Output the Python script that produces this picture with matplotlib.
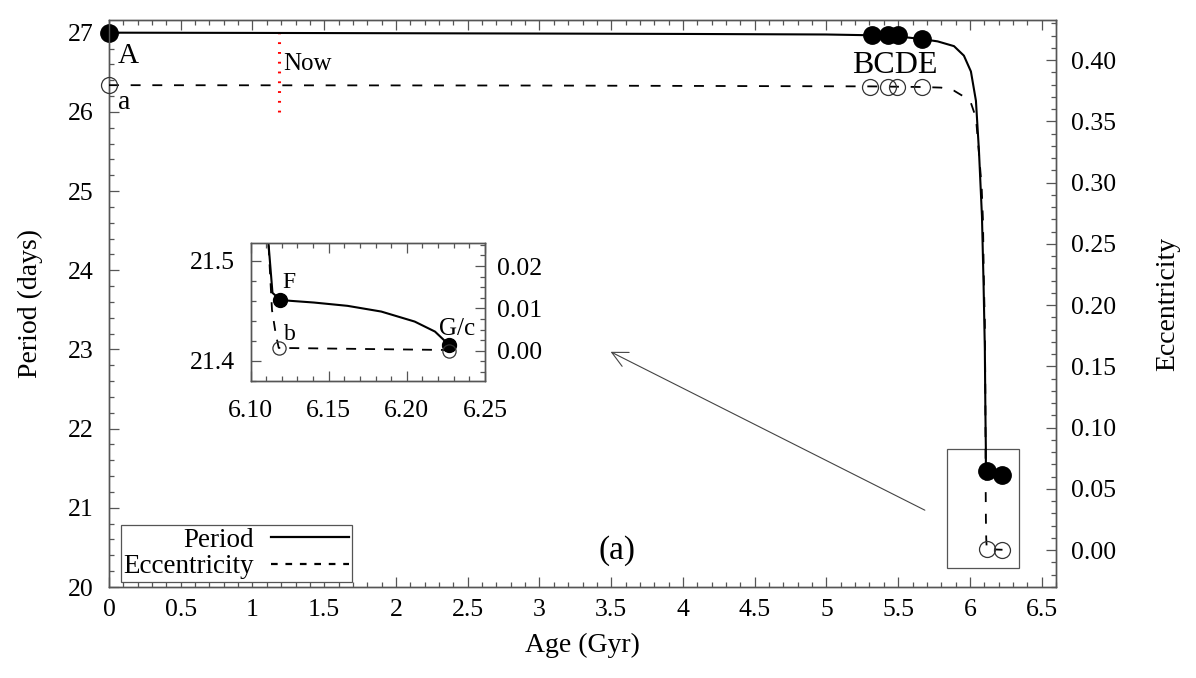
import matplotlib
matplotlib.use("Agg")
import matplotlib.pyplot as plt
from matplotlib.ticker import MultipleLocator, FuncFormatter
from matplotlib.lines import Line2D
from matplotlib.patches import Rectangle

plt.rcParams['font.family'] = ['Liberation Serif', 'DejaVu Serif']

# ---------------- data ----------------
age_period = [0.0, 1.0, 2.0, 3.0, 4.0, 5.0, 5.315, 5.5, 5.663, 5.775, 5.889, 5.958,
              6.007, 6.042, 6.063, 6.084, 6.095, 6.104, 6.108, 6.111, 6.1114, 6.114,
              6.119, 6.1255, 6.1405, 6.162, 6.1836, 6.205, 6.218, 6.227]
period = [27.0, 26.997, 26.993, 26.989, 26.984, 26.977, 26.967, 26.952, 26.92, 26.89,
          26.83, 26.71, 26.51, 26.14, 25.51, 24.68, 23.84, 23.01, 22.2, 21.76,
          21.518, 21.468, 21.461, 21.460, 21.4583, 21.455, 21.4493, 21.4393,
          21.4293, 21.416]

age_ecc = [0.0, 3.0, 5.31, 5.663, 5.8, 5.889, 5.96, 6.007, 6.042, 6.063, 6.082, 6.091,
           6.098, 6.104, 6.108, 6.110, 6.1114, 6.1137, 6.116, 6.118, 6.227]
ecc = [0.3795, 0.3792, 0.3785, 0.378, 0.3775, 0.375, 0.370, 0.365, 0.353, 0.324,
       0.296, 0.269, 0.214, 0.187, 0.12, 0.05, 0.0255, 0.0096, 0.0042, 0.0007, 0.0002]

# marked states
mark_labels_P = ['A', 'B', 'C', 'D', 'E', 'F', 'G']
mark_age_P = [0.0, 5.315, 5.43, 5.498, 5.663, 6.119, 6.227]
mark_P = [27.0, 26.967, 26.967, 26.965, 26.92, 21.461, 21.416]
mark_labels_e = ['a', 'B', 'C', 'D', 'E', 'b', 'c']
mark_age_e = [0.0, 5.303, 5.428, 5.491, 5.663, 6.118, 6.227]
mark_e = [0.3795, 0.378, 0.378, 0.378, 0.378, 0.0007, 0.0]

legend_labels = ['Period', 'Eccentricity']
now_age = 1.185

GRAY = '#555555'
FS = 18.5

fig = plt.figure(figsize=(11.96, 6.78), dpi=100)
ax = fig.add_axes([109/1196, 1-587/678, (1056-109)/1196, (587-20)/678])
ax2 = ax.twinx()

def style_axes(a, b, xfmt, yfmt, yfmt2, xpad, ypad, ypad2, fs):
    for s in list(a.spines.values()) + list(b.spines.values()):
        s.set_color(GRAY)
        s.set_linewidth(1.0)
    a.tick_params(which='both', direction='in', top=True, right=False, colors=GRAY,
                  labelcolor='black', labelsize=fs)
    a.tick_params(which='major', length=7.2, width=0.9)
    a.tick_params(which='minor', length=3.6, width=0.9)
    a.tick_params(axis='x', pad=xpad)
    a.tick_params(axis='y', pad=ypad)
    b.tick_params(which='both', direction='in', right=True, left=False, colors=GRAY,
                  labelcolor='black', labelsize=fs, pad=ypad2)
    b.tick_params(which='major', length=7.2, width=0.9)
    b.tick_params(which='minor', length=3.6, width=0.9)
    a.xaxis.set_major_formatter(FuncFormatter(xfmt))
    a.yaxis.set_major_formatter(FuncFormatter(yfmt))
    b.yaxis.set_major_formatter(FuncFormatter(yfmt2))

# ---------------- main panel ----------------
ax.plot(age_period, period, color='black', lw=1.5, zorder=3)
ax2.plot(age_ecc, ecc, color='black', lw=1.3, linestyle=(0, (5.5, 6.5)), zorder=3)
ax.plot(mark_age_P, mark_P, linestyle='none', marker='o', ms=12.5, color='black',
        zorder=4, clip_on=False)
ax2.plot(mark_age_e, mark_e, linestyle='none', marker='o', ms=11.5, mfc='none',
         mec='#333333', mew=0.9, zorder=4, clip_on=False)

ax.set_xlim(0, 6.6)
ax.set_ylim(20, 27.16)
ax2.set_ylim(-0.0302, 0.4327)
ax.xaxis.set_major_locator(MultipleLocator(0.5))
ax.xaxis.set_minor_locator(MultipleLocator(0.1))
ax.yaxis.set_major_locator(MultipleLocator(1))
ax.yaxis.set_minor_locator(MultipleLocator(0.2))
ax2.yaxis.set_major_locator(MultipleLocator(0.05))
ax2.yaxis.set_minor_locator(MultipleLocator(0.01))
style_axes(ax, ax2, lambda v, p: f'{v:g}', lambda v, p: f'{v:g}',
           lambda v, p: f'{v:.2f}', 9, 11, 11, FS)

ax.set_xlabel('Age (Gyr)', fontsize=FS + 1.5, labelpad=8)
ax.set_ylabel('Period (days)', fontsize=FS + 1.5, labelpad=18)
ax2.set_ylabel('Eccentricity', fontsize=FS + 1.5, labelpad=28)

# "Now" marker
ax.plot([now_age, now_age], [26.0, 27.06], color='red', lw=2.2,
        linestyle=(0, (0.6, 2.6)), dash_capstyle='butt', zorder=2)
ax.text(now_age + 0.03, 26.53, 'Now', fontsize=18, ha='left', va='baseline')

# point labels
ax.text(0.063, 26.62, 'A', fontsize=21, ha='left', va='baseline')
ax.text(0.063, 26.03, 'a', fontsize=20, ha='left', va='baseline')
ax.text(5.178, 26.494, 'BCDE', fontsize=23, ha='left', va='baseline')
ax.text(3.54, 20.46, '(a)', fontsize=24, ha='center', va='center')

# zoom box and arrow
ax.add_patch(Rectangle((5.84, 20.236), 6.341 - 5.84, 21.74 - 20.236, fill=False,
                       edgecolor=GRAY, lw=0.9, zorder=2))
ax.annotate('', xy=(3.496, 22.97), xytext=(5.686, 20.97),
            arrowprops=dict(arrowstyle='->', color='#444444', lw=0.8,
                            mutation_scale=28, shrinkA=0, shrinkB=0))

# legend
handles = [Line2D([], [], color='black', lw=1.6),
           Line2D([], [], color='black', lw=1.6, linestyle=(0, (3, 3.5)))]
leg = ax2.legend(handles, legend_labels, loc='lower left',
                 bbox_to_anchor=(121/1196, 1-582/678), bbox_transform=fig.transFigure,
                 markerfirst=False, fontsize=19.5, fancybox=False, framealpha=1,
                 edgecolor=GRAY, handlelength=2.9, handletextpad=0.6,
                 borderpad=0.1, labelspacing=0.05, borderaxespad=0)
leg.get_frame().set_linewidth(0.9)
for t in leg.get_texts():
    t.set_ha('right')

# ---------------- inset ----------------
axi = fig.add_axes([250.6/1196, 1-381/678, (485-250.6)/1196, (381-242.7)/678])
axi2 = axi.twinx()
axi.plot(age_period, period, color='black', lw=1.5, zorder=3)
axi2.plot(age_ecc, ecc, color='black', lw=1.3, linestyle=(0, (5.5, 5.0)), zorder=3)
axi.plot(mark_age_P[5:], mark_P[5:], linestyle='none', marker='o', ms=10,
         color='black', zorder=5, clip_on=False)
axi2.plot(mark_age_e[5:], mark_e[5:], linestyle='none', marker='o', ms=9.5,
          mfc='none', mec='#333333', mew=0.9, zorder=4, clip_on=False)
axi.set_xlim(6.10, 6.25)
axi.set_ylim(21.38, 21.518)
axi2.set_ylim(-0.0071, 0.0255)
axi.xaxis.set_major_locator(MultipleLocator(0.05))
axi.xaxis.set_minor_locator(MultipleLocator(0.01))
axi.yaxis.set_major_locator(MultipleLocator(0.1))
axi.yaxis.set_minor_locator(MultipleLocator(0.02))
axi2.yaxis.set_major_locator(MultipleLocator(0.01))
axi2.yaxis.set_minor_locator(MultipleLocator(0.0025))
style_axes(axi, axi2, lambda v, p: f'{v:.2f}', lambda v, p: f'{v:.1f}',
           lambda v, p: f'{v:.2f}', 14, 11, 9, FS)
axi.text(6.1205, 21.473, 'F', fontsize=17, ha='left', va='baseline')
axi.text(6.1213, 21.421, 'b', fontsize=17, ha='left', va='baseline')
axi.text(6.2204, 21.426, 'G/c', fontsize=18, ha='left', va='baseline')

fig.savefig('out.png', dpi=100)
